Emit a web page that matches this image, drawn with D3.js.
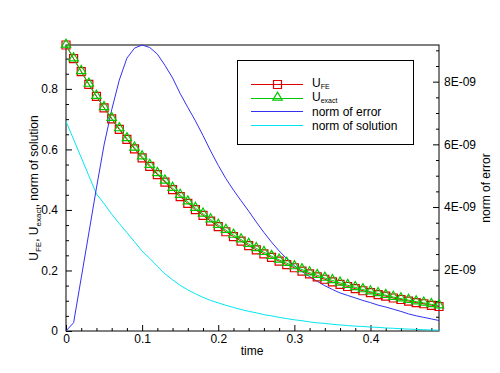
<!DOCTYPE html>
<html>
<head>
<meta charset="utf-8">
<script src="https://cdnjs.cloudflare.com/ajax/libs/d3/7.8.5/d3.min.js"></script>
<style>
body{margin:0;background:#fff;}
text{font-family:"Liberation Sans",Arial,sans-serif;font-size:12px;fill:#000;}
</style>
</head>
<body>
<script>
var time = [0, 0.01, 0.02, 0.03, 0.04, 0.05, 0.06, 0.07, 0.08, 0.09,
	0.10, 0.11, 0.12, 0.13, 0.14, 0.15, 0.16, 0.17, 0.18, 0.19,
	0.20, 0.21, 0.22, 0.23, 0.24, 0.25, 0.26, 0.27, 0.28, 0.29,
	0.30, 0.31, 0.32, 0.33, 0.34, 0.35, 0.36, 0.37, 0.38, 0.39,
	0.40, 0.41, 0.42, 0.43, 0.44, 0.45, 0.46, 0.47, 0.48, 0.49];

var uExact = [0.945, 0.900, 0.858, 0.816, 0.776, 0.739, 0.703, 0.669, 0.636, 0.605,
	0.576, 0.548, 0.521, 0.496, 0.472, 0.449, 0.427, 0.406, 0.387, 0.368,
	0.350, 0.333, 0.317, 0.302, 0.287, 0.273, 0.260, 0.247, 0.235, 0.224,
	0.213, 0.203, 0.193, 0.184, 0.175, 0.167, 0.159, 0.151, 0.144, 0.137,
	0.130, 0.124, 0.118, 0.112, 0.107, 0.102, 0.097, 0.093, 0.088, 0.084];

var uFE = [0.945, 0.900, 0.857, 0.815, 0.775, 0.737, 0.701, 0.666, 0.633, 0.602,
	0.572, 0.544, 0.517, 0.492, 0.467, 0.444, 0.422, 0.401, 0.382, 0.363,
	0.345, 0.328, 0.312, 0.297, 0.282, 0.268, 0.255, 0.243, 0.231, 0.219,
	0.209, 0.198, 0.189, 0.179, 0.171, 0.162, 0.154, 0.147, 0.140, 0.133,
	0.127, 0.120, 0.115, 0.109, 0.104, 0.099, 0.094, 0.090, 0.085, 0.081];

var normSolution = [0.693, 0.633, 0.573, 0.513, 0.453, 0.421, 0.386, 0.355, 0.325, 0.295,
	0.264, 0.240, 0.214, 0.189, 0.169, 0.151, 0.136, 0.123, 0.111, 0.101,
	0.093, 0.085, 0.078, 0.071, 0.065, 0.060, 0.054, 0.050, 0.045, 0.041,
	0.037, 0.034, 0.030, 0.027, 0.025, 0.022, 0.020, 0.018, 0.016, 0.015,
	0.013, 0.012, 0.010, 0.009, 0.0073, 0.0063, 0.0053, 0.0043, 0.0033, 0.0027];

// norm of error, in units of 1E-09
var normError = [0.045, 0.31, 1.74, 3.17, 4.61, 5.98, 7.10, 8.05, 8.75, 9.07,
	9.17, 9.09, 8.88, 8.52, 8.12, 7.62, 7.18, 6.75, 6.28, 5.79,
	5.33, 4.91, 4.54, 4.20, 3.87, 3.52, 3.19, 2.88, 2.60, 2.35,
	2.13, 1.94, 1.78, 1.63, 1.49, 1.37, 1.26, 1.18, 1.10, 1.02,
	0.95, 0.87, 0.81, 0.74, 0.67, 0.59, 0.53, 0.48, 0.43, 0.38];

var xTicks = [0, 0.1, 0.2, 0.3, 0.4];
var xTickLabels = ['0', '0.1', '0.2', '0.3', '0.4'];
var leftTicks = [0, 0.2, 0.4, 0.6, 0.8];
var leftTickLabels = ['0', '0.2', '0.4', '0.6', '0.8'];
var rightTicks = [2, 4, 6, 8];
var rightTickLabels = ['2E-09', '4E-09', '6E-09', '8E-09'];

var width = 500;
var height = 373;
var plotLeft = 66, plotRight = 439, plotTop = 45, plotBottom = 331;
var red = '#e00000', green = '#00c800', blue = '#3232f0', cyan = '#00e6f0';

var svg = d3.select('body')
	.append('svg')
	.attr('width', width)
	.attr('height', height);

var x = d3.scaleLinear().domain([0, 0.49]).range([plotLeft, plotRight]);
var yL = d3.scaleLinear().domain([0, 0.945]).range([plotBottom, plotTop]);
var yR = d3.scaleLinear().domain([0.045, 9.17]).range([plotBottom, plotTop]);

// minor ticks
var xMinor = d3.range(0.02, 0.49, 0.02).filter(function(v){ return Math.abs(v*10 - Math.round(v*10)) > 1e-6; });
var lMinor = d3.range(0.05, 0.94, 0.05).filter(function(v){ return Math.abs(v*5 - Math.round(v*5)) > 1e-6; });
var rMinor = d3.range(0.5, 9.1, 0.5).filter(function(v){ return Math.abs(v/2 - Math.round(v/2)) > 1e-6; });

svg.append('g').attr('transform', 'translate(0,' + plotBottom + ')')
	.call(d3.axisBottom(x).tickValues(xMinor).tickSize(-3).tickFormat(''));
svg.append('g').attr('transform', 'translate(' + plotLeft + ',0)')
	.call(d3.axisLeft(yL).tickValues(lMinor).tickSize(-3).tickFormat(''));
svg.append('g').attr('transform', 'translate(' + plotRight + ',0)')
	.call(d3.axisRight(yR).tickValues(rMinor).tickSize(-3).tickFormat(''));

svg.append('g').attr('transform', 'translate(0,' + plotBottom + ')')
	.call(d3.axisBottom(x).tickValues(xTicks).tickSize(-6).tickPadding(3)
		.tickFormat(function(d, i){ return xTickLabels[i]; }));
svg.append('g').attr('transform', 'translate(' + plotLeft + ',0)')
	.call(d3.axisLeft(yL).tickValues(leftTicks).tickSize(-6).tickPadding(8)
		.tickFormat(function(d, i){ return leftTickLabels[i]; }));
svg.append('g').attr('transform', 'translate(' + plotRight + ',0)')
	.call(d3.axisRight(yR).tickValues(rightTicks).tickSize(-6).tickPadding(5)
		.tickFormat(function(d, i){ return rightTickLabels[i]; }));

svg.selectAll('.domain').remove();
svg.selectAll('.tick line').attr('stroke', '#000');
svg.selectAll('.tick text').style('font-size', '12px').attr('fill', '#000')
	.style('font-family', '"Liberation Sans",Arial,sans-serif');

// frame
svg.append('rect')
	.attr('x', plotLeft).attr('y', plotTop)
	.attr('width', plotRight - plotLeft).attr('height', plotBottom - plotTop)
	.attr('fill', 'none').attr('stroke', '#000').attr('stroke-width', 1);

var pts = time.map(function(t, i){
	return {t: t, fe: uFE[i], ex: uExact[i], ns: normSolution[i], ne: normError[i]};
});

function drawLine(key, scale, color){
	svg.append('path')
		.datum(pts)
		.attr('fill', 'none')
		.attr('stroke', color)
		.attr('stroke-width', 1)
		.attr('d', d3.line()
			.x(function(d){ return x(d.t); })
			.y(function(d){ return scale(d[key]); }));
}

drawLine('ns', yL, cyan);
drawLine('ne', yR, blue);
drawLine('fe', yL, red);

var square = d3.symbol().type(d3.symbolSquare).size(64);
var tri = d3.symbol().type(d3.symbolTriangle).size(38);

svg.selectAll('.sq')
	.data(pts)
	.enter()
	.append('path')
	.attr('class', 'sq')
	.attr('d', square)
	.attr('transform', function(d){ return 'translate(' + x(d.t) + ',' + yL(d.fe) + ')'; })
	.attr('fill', 'none')
	.attr('stroke', red)
	.attr('stroke-width', 1.2);

drawLine('ex', yL, green);

svg.selectAll('.tri')
	.data(pts)
	.enter()
	.append('path')
	.attr('class', 'tri')
	.attr('d', tri)
	.attr('transform', function(d){ return 'translate(' + x(d.t) + ',' + (yL(d.ex) - 0.5) + ')'; })
	.attr('fill', 'none')
	.attr('stroke', green)
	.attr('stroke-width', 1.2);

// axis titles
svg.append('text')
	.attr('x', 252).attr('y', 355)
	.attr('text-anchor', 'middle')
	.text('time');

var lt = svg.append('text')
	.attr('transform', 'translate(38,188) rotate(-90)')
	.attr('text-anchor', 'middle');
lt.append('tspan').text('U');
lt.append('tspan').attr('dy', 3).style('font-size', '8px').text('FE');
lt.append('tspan').attr('dy', -3).text(', U');
lt.append('tspan').attr('dy', 3).style('font-size', '8px').text('exact');
lt.append('tspan').attr('dy', -3).text(', norm of solution');

svg.append('text')
	.attr('transform', 'translate(490,188) rotate(-90)')
	.attr('text-anchor', 'middle')
	.text('norm of error');

// legend
var legend = svg.append('g');
legend.append('rect')
	.attr('x', 237.5).attr('y', 60.5)
	.attr('width', 176).attr('height', 84)
	.attr('fill', '#fff').attr('stroke', '#000').attr('stroke-width', 1);

var legendItems = [
	{name: 'U', sub: 'FE', color: red, mark: square, y: 84.5},
	{name: 'U', sub: 'exact', color: green, mark: tri, y: 98.5},
	{name: 'norm of error', sub: null, color: blue, mark: null, y: 111.5},
	{name: 'norm of solution', sub: null, color: cyan, mark: null, y: 125.5}
];

legendItems.forEach(function(d){
	legend.append('line')
		.attr('x1', 251).attr('x2', 303)
		.attr('y1', d.y).attr('y2', d.y)
		.attr('stroke', d.color).attr('stroke-width', 1);
	if (d.mark) {
		legend.append('path')
			.attr('d', d.mark)
			.attr('transform', 'translate(277.5,' + (d.y - (d.sub === 'exact' ? 1 : 0)) + ')')
			.attr('fill', 'none').attr('stroke', d.color).attr('stroke-width', 1.2);
	}
	var t = legend.append('text').attr('x', 312).attr('y', d.y + (d.sub ? 2 : 4));
	t.append('tspan').text(d.name);
	if (d.sub) t.append('tspan').attr('dy', 2).style('font-size', '7px').text(d.sub);
});
</script>
</body>
</html>
